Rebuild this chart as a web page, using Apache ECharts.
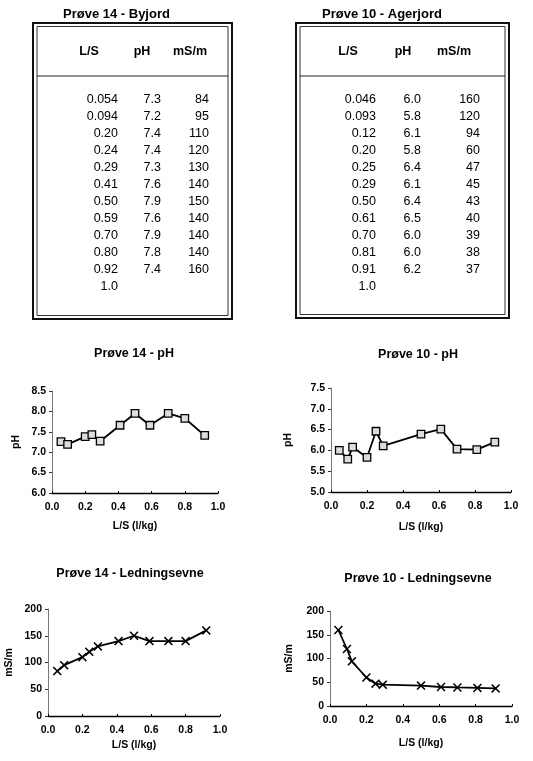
<!DOCTYPE html>
<html>
<head>
<meta charset="utf-8">
<script src="https://cdn.jsdelivr.net/npm/echarts@6/dist/echarts.min.js"></script>
<style>
html,body{margin:0;padding:0;background:#fff;}
#c{width:533px;height:761px;}
</style>
</head>
<body>
<div id="c"></div>
<script>
// ---------- DATA ----------
// Prøve 14 - Byjord (table)
const ls14 = [0.054, 0.094, 0.20, 0.24, 0.29, 0.41, 0.50, 0.59, 0.70, 0.80, 0.92];
const ls14Labels = ['0.054','0.094','0.20','0.24','0.29','0.41','0.50','0.59','0.70','0.80','0.92','1.0'];
const ph14Labels = ['7.3','7.2','7.4','7.4','7.3','7.6','7.9','7.6','7.9','7.8','7.4'];
const ms14 = [84, 95, 110, 120, 130, 140, 150, 140, 140, 140, 160];
// plotted pH values
const ph14Plot = [7.26, 7.19, 7.38, 7.43, 7.27, 7.66, 7.95, 7.66, 7.95, 7.83, 7.41];

// Prøve 10 - Agerjord (table)
const ls10 = [0.046, 0.093, 0.12, 0.20, 0.25, 0.29, 0.50, 0.61, 0.70, 0.81, 0.91];
const ls10Labels = ['0.046','0.093','0.12','0.20','0.25','0.29','0.50','0.61','0.70','0.81','0.91','1.0'];
const ph10Labels = ['6.0','5.8','6.1','5.8','6.4','6.1','6.4','6.5','6.0','6.0','6.2'];
const ms10 = [160, 120, 94, 60, 47, 45, 43, 40, 39, 38, 37];
const ph10Plot = [6.0, 5.79, 6.08, 5.83, 6.46, 6.11, 6.39, 6.51, 6.03, 6.02, 6.2];

const tableHeaders = ['L/S', 'pH', 'mS/m'];
const tableTitles = ['Prøve 14 - Byjord', 'Prøve 10 - Agerjord'];
const chartTitles = ['Prøve 14 - pH', 'Prøve 10 - pH', 'Prøve 14 - Ledningsevne', 'Prøve 10 - Ledningsevne'];
const xName = 'L/S (l/kg)';

// ---------- LAYOUT ----------
const FONT = '"Liberation Sans", Arial, sans-serif';
function pairs(xs, ys){ return xs.map((x,i)=>[x, ys[i]]); }

function buildTable(t){
  const els = [];
  els.push({type:'rect', shape:{x:t.x, y:t.y, width:t.w, height:t.h}, style:{fill:'none', stroke:'#111', lineWidth:2}});
  els.push({type:'rect', shape:{x:t.x+4, y:t.y+3.5, width:t.w-8, height:t.h-7}, style:{fill:'none', stroke:'#333', lineWidth:1}});
  els.push({type:'line', shape:{x1:t.x+4, y1:t.sepY, x2:t.x+t.w-4, y2:t.sepY}, style:{stroke:'#222', lineWidth:1.2}});
  els.push({type:'text', x:t.titleX, y:14, style:{text:t.title, font:'bold 13px '+FONT, fill:'#000', textAlign:'left', align:'left', textVerticalAlign:'middle', verticalAlign:'middle'}});
  tableHeaders.forEach((h,i)=>{
    els.push({type:'text', x:t.headX[i], y:52, style:{text:h, font:'bold 12.5px '+FONT, fill:'#000', textAlign:'center', align:'center', textVerticalAlign:'middle', verticalAlign:'middle'}});
  });
  const cols = [t.ls, t.ph, t.ms];
  cols.forEach((col,ci)=>{
    col.forEach((v,ri)=>{
      els.push({type:'text', x:t.colX[ci], y:100 + ri*17, style:{text:String(v), font:'12.5px '+FONT, fill:'#000', textAlign:'right', align:'right', textVerticalAlign:'middle', verticalAlign:'middle'}});
    });
  });
  return els;
}

const graphics = [].concat(
  buildTable({x:33, y:23, w:199, h:296, sepY:76, title:tableTitles[0], titleX:63,
    headX:[89,142,190], colX:[118,161,209], ls:ls14Labels, ph:ph14Labels, ms:ms14}),
  buildTable({x:296, y:23, w:213, h:295, sepY:76, title:tableTitles[1], titleX:322,
    headX:[348,403,454], colX:[376,421,480], ls:ls10Labels, ph:ph10Labels, ms:ms10})
);

const grids = [
  {left:52, top:391, width:166, height:102},
  {left:331, top:388, width:180, height:104},
  {left:48, top:609, width:172, height:107},
  {left:330, top:611, width:182, height:95}
];

const axisLabelStyle = {fontFamily:FONT, fontWeight:'bold', fontSize:10.5, color:'#000'};
function xAxis(i, gap){
  return {type:'value', gridIndex:i, min:0, max:1, interval:0.2,
    name:xName, nameLocation:'middle', nameGap:gap,
    nameTextStyle:{fontFamily:FONT, fontWeight:'bold', fontSize:10.5, color:'#000'},
    axisLine:{show:true, onZero:false, lineStyle:{color:'#000', width:1.3}},
    axisTick:{show:true, inside:true, length:2, lineStyle:{color:'#000'}},
    axisLabel:Object.assign({margin:9, formatter:v=>v.toFixed(1)}, axisLabelStyle),
    splitLine:{show:false}};
}
function yAxis(i, min, max, interval, name, gap, dec){
  return {type:'value', gridIndex:i, min:min, max:max, interval:interval,
    name:name, nameLocation:'middle', nameGap:gap,
    nameTextStyle:{fontFamily:FONT, fontWeight:'bold', fontSize:10.5, color:'#000'},
    axisLine:{show:true, lineStyle:{color:'#777', width:1}},
    axisTick:{show:true, length:3, lineStyle:{color:'#333'}},
    axisLabel:Object.assign({margin:6, formatter:v=>v.toFixed(dec)}, axisLabelStyle),
    splitLine:{show:false}};
}

const xMark = 'path://M0,1.2 L1.2,0 L5,3.8 L8.8,0 L10,1.2 L6.2,5 L10,8.8 L8.8,10 L5,6.2 L1.2,10 L0,8.8 L3.8,5 Z';

function lineSeries(i, data, symbol, size, itemStyle){
  return {type:'line', xAxisIndex:i, yAxisIndex:i, data:data, symbol:symbol, symbolSize:size,
    showAllSymbol:true, lineStyle:{color:'#000', width:1.8}, itemStyle:itemStyle, animation:false,
    emphasis:{disabled:true}};
}

const titleCenters = [[134,347],[418,348],[130,567],[418,572]];

const option = {
  backgroundColor:'#fff',
  animation:false,
  title: chartTitles.map((t,i)=>({text:t, left:titleCenters[i][0], top:titleCenters[i][1], textAlign:'center', padding:0,
    textStyle:{fontFamily:FONT, fontWeight:'bold', fontSize:12.5, color:'#000'}})),
  grid: grids,
  xAxis: [xAxis(0,28), xAxis(1,30), xAxis(2,24), xAxis(3,32)],
  yAxis: [
    yAxis(0, 6, 8.5, 0.5, 'pH', 30, 1),
    yAxis(1, 5, 7.5, 0.5, 'pH', 37, 1),
    yAxis(2, 0, 200, 50, 'mS/m', 33, 0),
    yAxis(3, 0, 200, 50, 'mS/m', 35, 0)
  ],
  series: [
    lineSeries(0, pairs(ls14, ph14Plot), 'rect', 7.5, {color:'#ddd', borderColor:'#000', borderWidth:1.3}),
    lineSeries(1, pairs(ls10, ph10Plot), 'rect', 7.5, {color:'#ddd', borderColor:'#000', borderWidth:1.3}),
    lineSeries(2, pairs(ls14, ms14), xMark, 9, {color:'#000'}),
    lineSeries(3, pairs(ls10, ms10), xMark, 9, {color:'#000'})
  ],
  graphic: graphics
};

const chart = echarts.init(document.getElementById('c'), null, {renderer:'canvas'});
chart.setOption(option);
</script>
</body>
</html>
